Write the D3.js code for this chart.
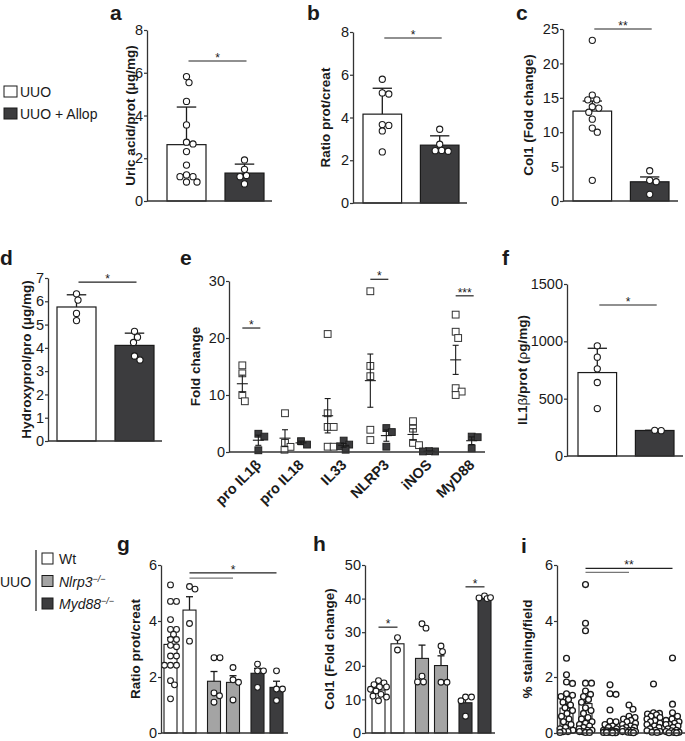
<!DOCTYPE html>
<html><head><meta charset="utf-8">
<script src="https://cdn.jsdelivr.net/npm/d3@7"></script>
<style>
body{margin:0;background:#fff}
svg{display:block}
text{font-family:"Liberation Sans",Arial,Helvetica,sans-serif;fill:#1a1a1a}
</style>
</head><body>
<svg id="chart" width="685" height="741"></svg>
<script>
// ---------------- DATA ----------------
const allopGroups = ["UUO", "UUO + Allop"];
const uricAcidUUO = [5.82,5.54,4.66,3.56,2.75,2.67,2.31,1.68,1.22,1.14,0.89,0.89,1.14];
const uricAcidAllop = [1.92,1.48,1.19,1.14,0.80];
const ratioUUO = [5.79,5.15,5.10,3.67,3.63,3.37,2.39];
const ratioAllop = [3.45,2.75,2.46,2.45,2.42];
const col1UUO = [23.35,15.4,14.7,14.7,13.7,13.5,12.9,11.9,10.6,10.0,3.0];
const col1Allop = [4.4,3.0,2.8,0.97];
const hydroxyUUO = [6.32,6.05,5.48,5.17];
const hydroxyAllop = [4.71,4.46,4.23,3.65,3.48];
const il1bUUO = [961,862,760,641,414];
const il1bAllop = [221,224];

const genes = ["pro IL1β","pro IL18","IL33","NLRP3","iNOS","MyD88"];
const foldUUO = [[15.2,13.8,10.0,8.9],[6.8,1.6,0.9,0.4],[20.7,6.8,4.4,4.4,0.93,0.93],
                 [28.2,15.1,13.3,3.9,2.1],[5.4,4.1,1.6,1.2],[24.1,21.1,20.0,11.2,10.6,10.0]];
const foldAllop = [[3.2,2.7,0.3],[1.9,1.3],[2.0,1.3,1.0,0.4],[4.2,3.5,0.93],[0.1,0.15,0.1],[2.7,2.6,0.64]];

const genotypes = ["Wt","Nlrp3","Myd88"];
const ratioKO = [
  [5.29,4.70,4.70,4.05,3.70,3.70,3.52,3.34,3.34,3.13,3.08,2.75,2.75,2.42,2.42,2.42,1.87,1.72,1.22],
  [5.23,5.14,3.91,3.28],
  [2.69,2.69,1.43,1.33,1.10],
  [2.34,1.90,1.81,1.18],
  [2.46,2.22,2.22,1.63],
  [2.22,1.57,1.57,1.16]];
const col1KO = [
  [15.6,14.9,14.4,13.7,13.7,13.0,12.5,11.5,11.0,10.7,9.6],
  [28.4,24.7],
  [32.5,31.2,16.9,15.2,15.2],
  [25.9,24.2,15.1,15.1],
  [10.7,10.7,9.6,5.0],
  [40.8,40.2,40.0,40.3]];
const stainKO = [
  [2.67,2.08,1.82,1.77,1.4,1.35,1.3,1.2,1.1,1.0,0.9,0.8,0.7,0.6,0.5,0.4,0.3,0.2,0.15,0.1,0.05,0.05,0.02],
  [5.3,3.92,3.65,1.78,1.78,1.5,1.38,1.3,1.2,1.1,0.9,0.8,0.7,0.55,0.5,0.4,0.35,0.3,0.25,0.2,0.15,0.1,0.1,0.05,0.05,0.02,0.02],
  [1.72,1.4,1.38,0.82,0.42,0.4,0.3,0.25,0.2,0.15,0.1,0.1,0.05,0.05,0.02,0.08,0.06,0.05,0.04,0.03,0.03,0.02,0.02,0.01,0.01],
  [1.0,0.85,0.6,0.55,0.5,0.45,0.4,0.35,0.3,0.25,0.2,0.2,0.15,0.1,0.1,0.08,0.05,0.05,0.03,0.02,0.01],
  [1.75,0.72,0.7,0.68,0.65,0.6,0.55,0.5,0.45,0.4,0.35,0.3,0.25,0.2,0.15,0.1,0.08,0.05,0.03,0.02],
  [2.68,1.03,0.72,0.6,0.5,0.45,0.4,0.35,0.3,0.3,0.25,0.2,0.15,0.1,0.08,0.05,0.03,0.02,0.01,0.01]];

const ticksA = [0,2,4,6,8];
const ticksB = [0,2,4,6,8];
const ticksC = [0,5,10,15,20,25];
const ticksD = [0,1,2,3,4,5,6,7];
const ticksE = [0,10,20,30];
const ticksF = [0,500,1000,1500];
const ticksG = [0,2,4,6];
const ticksH = [0,10,20,30,40,50];
const ticksI = [0,2,4,6];

// ---------------- STYLE ----------------
const WHITE = "#ffffff", GRAY = "#a4a4a4", DARK = "#3c3c3e", INK = "#1a1a1a", AXIS = "#333";
const svg = d3.select("#chart");

const mean = a => d3.mean(a);
const sd = a => a.length > 1 ? d3.deviation(a) : 0;
const sem = a => a.length > 1 ? d3.deviation(a) / Math.sqrt(a.length) : 0;

// deterministic beeswarm
function swarm(values, y, cx, r, maxOff) {
  const pts = values.map(v => ({v, y: y(v), x: cx}));
  const order = pts.slice().sort((a, b) => a.y - b.y);
  const placed = [];
  const cands = [0];
  for (let k = 0.5; k <= maxOff + 1e-6; k += 0.5) { cands.push(k, -k); }
  const D = 2 * r;
  order.forEach(p => {
    let best = null, bestScore = -1;
    for (const c of cands) {
      let minD = Infinity;
      for (const q of placed) {
        const d = Math.hypot(cx + c - q.x, p.y - q.y);
        if (d < minD) minD = d;
      }
      if (minD >= D - 0.2) { best = c; bestScore = Infinity; break; }
      if (minD > bestScore) { bestScore = minD; best = c; }
    }
    p.x = cx + best;
    placed.push(p);
  });
  return pts;
}

function yAxis(g, x, y, ticks) {
  const ax = g.append("g").attr("transform", `translate(${x},0)`)
    .call(d3.axisLeft(y).tickValues(ticks).tickFormat(d3.format("d")).tickSize(3).tickSizeOuter(0).tickPadding(1));
  ax.attr("font-size", null).attr("font-family", null);
  ax.select(".domain").attr("stroke", AXIS).attr("stroke-width", 1.3);
  ax.selectAll(".tick line").attr("stroke", AXIS).attr("stroke-width", 1.2);
  ax.selectAll(".tick text").attr("fill", INK)
    .style("font-size", "14.5px").style("font-family", '"Liberation Sans",Arial,sans-serif');
}
function xLine(g, x0, x1, yy) {
  g.append("line").attr("x1", x0).attr("x2", x1).attr("y1", yy).attr("y2", yy)
    .attr("stroke", AXIS).attr("stroke-width", 1.3);
}
function yTitle(g, x, yc, txt) {
  const t = g.append("text").attr("transform", `translate(${x},${yc}) rotate(-90)`)
    .attr("text-anchor", "middle").style("font-size", "13.5px").attr("font-weight", "bold");
  if (typeof txt === "string") t.text(txt);
  else txt.forEach(s => t.append("tspan").attr("font-weight", s.w || "bold").text(s.t));
}
function letter(x, y, l) {
  svg.append("text").attr("x", x).attr("y", y).style("font-size", "21px").attr("font-weight", "bold").text(l);
}
function sigLine(g, x0, x1, yy, label, color, starX) {
  g.append("line").attr("x1", x0).attr("x2", x1).attr("y1", yy).attr("y2", yy)
    .attr("stroke", color || "#222").attr("stroke-width", 1.2);
  if (label) g.append("text").attr("x", starX != null ? starX : (x0 + x1) / 2).attr("y", yy + 1)
    .attr("text-anchor", "middle").style("font-size", "12px").text(label);
}

// ---------------- two-bar panels ----------------
function barPanel(o) {
  const g = svg.append("g");
  const x = d3.scaleBand().domain(allopGroups).range(o.band).paddingInner(19 / 58);
  const y = d3.scaleLinear().domain([0, o.yMax]).range(o.yRange);
  const series = [{k: allopGroups[0], vals: o.vals[0], fill: WHITE}, {k: allopGroups[1], vals: o.vals[1], fill: DARK}];
  series.forEach(s => {
    const m = mean(s.vals), e = o.err === "sd" ? sd(s.vals) : sem(s.vals);
    const bx = x(s.k), bw = x.bandwidth(), cx = bx + bw / 2;
    g.append("line").attr("x1", cx).attr("x2", cx).attr("y1", y(m)).attr("y2", y(m + e))
      .attr("stroke", INK).attr("stroke-width", 1.3);
    g.append("line").attr("x1", cx - bw * 0.25).attr("x2", cx + bw * 0.25).attr("y1", y(m + e)).attr("y2", y(m + e))
      .attr("stroke", INK).attr("stroke-width", 1.3);
    g.append("rect").attr("x", bx).attr("width", bw).attr("y", y(m)).attr("height", y(0) - y(m))
      .attr("fill", s.fill).attr("stroke", INK).attr("stroke-width", 1.2);
    const pts = swarm(s.vals, y, cx, 3.3, bw * 0.42);
    g.selectAll(null).data(pts).join("circle").attr("cx", d => d.x).attr("cy", d => d.y).attr("r", 3.1)
      .attr("fill", "#fff").attr("stroke", INK).attr("stroke-width", 1.1);
  });
  yAxis(g, o.axisX[0], y, o.ticks);
  xLine(g, o.axisX[0], o.axisX[1], y(0));
  yTitle(g, o.titleX, (o.yRange[0] + o.yRange[1]) / 2, o.title);
  const c0 = x(allopGroups[0]) + x.bandwidth() / 2, c1 = x(allopGroups[1]) + x.bandwidth() / 2;
  sigLine(g, c0 + 2, c1 + 2, y(o.sigV), o.sig);
  letter(o.letter[1], o.letter[2], o.letter[0]);
}

barPanel({letter:["a",110,20], axisX:[147,272], band:[167,264], yRange:[201,30], yMax:8, ticks:ticksA,
  vals:[uricAcidUUO, uricAcidAllop], err:"sd", title:"Uric acid/prot (μg/mg)", titleX:135, sigV:6.55, sig:"*"});
barPanel({letter:["b",307,20], axisX:[353,467], band:[363,459], yRange:[203,32], yMax:8, ticks:ticksB,
  vals:[ratioUUO, ratioAllop], err:"sd", title:"Ratio prot/creat", titleX:330, sigV:7.72, sig:"*"});
barPanel({letter:["c",516,20], axisX:[563,678], band:[573,669], yRange:[201,29], yMax:25, ticks:ticksC,
  vals:[col1UUO, col1Allop], err:"sem", title:"Col1 (Fold change)", titleX:533, sigV:25, sig:"**"});
barPanel({letter:["d",0,265], axisX:[48,162], band:[57,154], yRange:[441,278], yMax:7, ticks:ticksD,
  vals:[hydroxyUUO, hydroxyAllop], err:"sd", title:"Hydroxyprol/pro (μg/mg)", titleX:31, sigV:6.82, sig:"*"});
barPanel({letter:["f",502,265], axisX:[567,683], band:[578,674], yRange:[456,284], yMax:1500, ticks:ticksF,
  vals:[il1bUUO, il1bAllop], err:"sd",
  title:[{t:"IL1"},{t:"β",w:"normal"},{t:"/prot ("},{t:"ρ",w:"normal"},{t:"g/mg)"}], titleX:527, sigV:1317, sig:"*"});

// legend a
[[allopGroups[0], WHITE, 86], [allopGroups[1], DARK, 108]].forEach(([t, f, yy]) => {
  svg.append("rect").attr("x", 4).attr("y", yy).attr("width", 13).attr("height", 11)
    .attr("fill", f).attr("stroke", INK).attr("stroke-width", 1);
  svg.append("text").attr("x", 20).attr("y", yy + 11).style("font-size", "14px").text(t);
});

// ---------------- panel e ----------------
(function () {
  const g = svg.append("g");
  const x = d3.scaleBand().domain(genes).range([229, 485]);
  const sub = d3.scalePoint().domain([0, 1]).range([0, x.bandwidth()]).padding(0.833);
  const y = d3.scaleLinear().domain([0, 30]).range([452, 281]);
  const sigs = {"pro IL1β": [21.75, "*"], "NLRP3": [30.3, "*"], "MyD88": [27.4, "***"]};
  genes.forEach((gn, i) => {
    [[foldUUO[i], "#fff", 0], [foldAllop[i], DARK, 1]].forEach(([vals, fill, k]) => {
      const cx = x(gn) + sub(k);
      const pts = swarm(vals, y, cx, 3.4, 6);
      g.selectAll(null).data(pts).join("rect")
        .attr("x", d => d.x - 3.4).attr("y", d => d.y - 3.4).attr("width", 6.8).attr("height", 6.8)
        .attr("fill", fill).attr("stroke", k ? "#222" : "#333").attr("stroke-width", 1);
      const m = mean(vals), e = sem(vals);
      const ln = (x1, x2, y1, y2) => g.append("line").attr("x1", x1).attr("x2", x2).attr("y1", y1).attr("y2", y2)
        .attr("stroke", INK).attr("stroke-width", 1.1);
      ln(cx - 5.5, cx + 5.5, y(m), y(m));
      ln(cx, cx, y(m - e), y(m + e));
      ln(cx - 3, cx + 3, y(m + e), y(m + e));
      ln(cx - 3, cx + 3, y(Math.max(0, m - e)), y(Math.max(0, m - e)));
    });
    if (sigs[gn]) sigLine(g, x(gn) + sub(0), x(gn) + sub(1) + 2, y(sigs[gn][0]), sigs[gn][1]);
    g.append("text").attr("transform", `translate(${x(gn) + x.bandwidth() / 2 + 4},458) rotate(-45)`)
      .attr("text-anchor", "end").attr("dy", "0.75em").style("font-size", "14.5px").attr("font-weight", "bold").text(gn);
  });
  yAxis(g, 229, y, ticksE);
  xLine(g, 229, 485, y(0));
  yTitle(g, 200, (452 + 281) / 2, "Fold change");
  letter(180, 265, "e");
})();

// ---------------- knockout panels g, h, i ----------------
const koFills = [WHITE, WHITE, GRAY, GRAY, DARK, DARK];
function koPanel(o) {
  const g = svg.append("g");
  const outer = d3.scaleBand().domain(genotypes).range([o.start, o.start + 3 * 43.5 - 11.5]).paddingInner(11.5 / 43.5);
  const inner = d3.scaleBand().domain([0, 1]).range([0, outer.bandwidth()]).paddingInner(6 / 19);
  const bx = i => outer(genotypes[Math.floor(i / 2)]) + inner(i % 2);
  const bw = inner.bandwidth();
  const y = d3.scaleLinear().domain([0, o.yMax]).range(o.yRange);
  o.data.forEach((vals, i) => {
    const m = mean(vals), e = sem(vals), cx = bx(i) + bw / 2;
    g.append("line").attr("x1", cx).attr("x2", cx).attr("y1", y(m)).attr("y2", y(m + e)).attr("stroke", INK).attr("stroke-width", 1.3);
    g.append("line").attr("x1", cx - 3.5).attr("x2", cx + 3.5).attr("y1", y(m + e)).attr("y2", y(m + e)).attr("stroke", INK).attr("stroke-width", 1.3);
    g.append("rect").attr("x", bx(i)).attr("width", bw).attr("y", y(m)).attr("height", y(0) - y(m))
      .attr("fill", koFills[i]).attr("stroke", INK).attr("stroke-width", 1.1);
    const pts = swarm(vals, y, cx, o.r, o.spread);
    g.selectAll(null).data(pts).join("circle").attr("cx", d => d.x).attr("cy", d => d.y).attr("r", o.r - 0.1)
      .attr("fill", "#fff").attr("stroke", INK).attr("stroke-width", o.sw);
  });
  yAxis(g, o.axisX[0], y, o.ticks);
  xLine(g, o.axisX[0], o.axisX[1], y(0));
  yTitle(g, o.titleX, (o.yRange[0] + o.yRange[1]) / 2, o.title);
  o.sig.forEach(s => sigLine(g, bx(s[0]) + bw / 2, bx(s[1]) + bw / 2, y(s[2]), s[3], s[4], s[5] != null ? bx(s[5]) + bw / 2 : null));
  letter(o.letter[1], o.letter[2], o.letter[0]);
}
koPanel({letter:["g",117,551], axisX:[161,288], start:164, yRange:[733,565], yMax:6, ticks:ticksG, data:ratioKO,
  spread:9, r:3, sw:1.1, title:"Ratio prot/creat", titleX:140,
  sig:[[1,5,5.72,"*","#222",3],[1,3,5.53,null,"#777"]]});
koPanel({letter:["h",313,551], axisX:[365,495], start:372, yRange:[733,565], yMax:50, ticks:ticksH, data:col1KO,
  spread:8, r:3, sw:1.1, title:"Col1 (Fold change)", titleX:334,
  sig:[[0,1,31.5,"*"],[4,5,43.5,"*"]]});
koPanel({letter:["i",521,553], axisX:[557,685], start:560, yRange:[733,565], yMax:6, ticks:ticksI, data:stainKO,
  spread:6.5, r:3, sw:1.35, title:"% staining/field", titleX:532,
  sig:[[1,5,5.88,"**","#222",3],[1,3,5.74,null,"#777"]]});

// legend g
svg.append("text").attr("x", 0).attr("y", 587).style("font-size", "14px").text("UUO");
svg.append("line").attr("x1", 36).attr("x2", 36).attr("y1", 550).attr("y2", 611).attr("stroke", INK).attr("stroke-width", 1.2);
genotypes.forEach((gt, i) => {
  const yy = 553 + i * 22.5;
  svg.append("rect").attr("x", 42).attr("y", yy).attr("width", 11).attr("height", 11)
    .attr("fill", [WHITE, GRAY, DARK][i]).attr("stroke", INK).attr("stroke-width", 1);
  const t = svg.append("text").attr("x", 59).attr("y", yy + 11).style("font-size", "14px");
  if (i === 0) t.text(gt);
  else {
    t.append("tspan").attr("font-style", "italic").text(gt);
    t.append("tspan").attr("font-style", "italic").style("font-size", "9px").attr("dy", -5).text("−/−");
  }
});
</script>
</body></html>
